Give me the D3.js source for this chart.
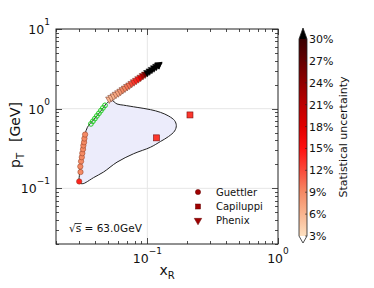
<!DOCTYPE html>
<html><head><meta charset="utf-8">
<script src="https://cdn.jsdelivr.net/npm/d3@7/dist/d3.min.js"></script>
<style>body{margin:0;background:#fff}svg{display:block;font-family:"DejaVu Sans",sans-serif}</style>
</head><body><svg id="c" width="374" height="288"></svg>
<script>
// ---- data ----
const guettlerX = [0.0301,0.0308,0.0307,0.0311,0.0315,0.0318,0.0322,0.0324,0.0328,0.0330,0.0334];
const guettlerY = [0.122,0.160,0.188,0.218,0.246,0.276,0.310,0.345,0.379,0.422,0.473];
const guettlerU = [14,9,9,9,9,9,9,9,9,9,9];
const greenX = [0.0370,0.0383,0.0397,0.0411,0.0426,0.0441,0.0457,0.0474];
const greenY = [0.644,0.694,0.750,0.811,0.874,0.944,1.02,1.10];
const phenixX = [0.0512,0.0532,0.0553,0.0575,0.0600,0.0624,0.0649,0.0675,0.0702,0.0730,0.0759,0.0791,0.0822,0.0855,0.0889,0.0925,0.0962,0.1000,0.1042,0.1084,0.1127,0.1172,0.1219];
const phenixY = [1.315,1.377,1.439,1.507,1.574,1.648,1.726,1.803,1.888,1.972,2.065,2.163,2.259,2.366,2.472,2.588,2.704,2.831,2.965,3.097,3.243,3.388,3.548];
const phenixU = [6,6,6,7,7,8,9,9,10,10,12,13,14,15,18,22,26,31,33,35,38,40,45];
const capX = [0.1175,0.212];
const capY = [0.430,0.834];
const capU = [13,13];
const contourX = [0.0301,0.0302,0.0306,0.0311,0.0319,0.0326,0.0334,0.0348,0.0365,0.0392,0.0421,0.0452,0.0485,0.0530,0.0586,0.0659,0.0835,0.1057,0.126,0.146,0.1617,0.1667,0.1617,0.1454,0.126,0.1057,0.0786,0.0586,0.0462,0.0387,0.0340,0.0323];
const contourY = [0.117,0.145,0.185,0.237,0.299,0.387,0.483,0.584,0.649,0.739,0.853,0.986,1.155,1.277,1.145,1.106,1.038,0.972,0.899,0.806,0.708,0.613,0.524,0.447,0.387,0.328,0.272,0.213,0.160,0.136,0.119,0.1145];
const cbarTicks = [3,6,9,12,15,18,21,24,27,30];
const legendNames = ["Guettler","Capiluppi","Phenix"];
const xTickExp = [-1, 0];
const yTickExp = [-1, 0, 1];

// ---- layout ----
const svg = d3.select("#c");
const L=56, R=278, T=29, B=244;
const x = d3.scaleLog().domain([0.02,1]).range([L,R]);
const y = d3.scaleLog().domain([0.02,10]).range([B,T]);
const color = d3.scaleLinear()
  .domain([3,6,9,12,15,18,21,24,27,30])
  .range(["#fde0c0","#f9b590","#f58a64","#fa4a3a","#ff1010","#e00000","#bc0000","#900000","#650000","#3a0000"])
  .clamp(true);
const col = u => u>30 ? "#000000" : color(u);

// grid
const g = svg.append("g");
[0.1].forEach(v=>g.append("line").attr("x1",x(v)).attr("x2",x(v)).attr("y1",T).attr("y2",B).attr("stroke","#e6e6e6").attr("stroke-width",1));
[0.1,1].forEach(v=>g.append("line").attr("y1",y(v)).attr("y2",y(v)).attr("x1",L).attr("x2",R).attr("stroke","#e6e6e6").attr("stroke-width",1));

// contour
const pts = contourX.map((d,i)=>[x(d),y(contourY[i])]);
svg.append("path").attr("d", d3.line().curve(d3.curveCatmullRomClosed.alpha(0.5))(pts))
  .attr("fill","#ececfb").attr("stroke","#222").attr("stroke-width",1);

// ticks
function logTicks(lo,hi){const t=[];for(let e=-3;e<=2;e++)for(let m=1;m<10;m++){const v=m*Math.pow(10,e);if(v>=lo*0.999&&v<=hi*1.001)t.push([v,m===1]);}return t;}
const ax = svg.append("g").attr("stroke","#222").attr("stroke-width",0.8);
logTicks(0.02,1).forEach(([v,maj])=>{const len=maj?6:3;const px=Math.round(x(v))+0.5;
  ax.append("line").attr("x1",px).attr("x2",px).attr("y1",B).attr("y2",B-len);
  ax.append("line").attr("x1",px).attr("x2",px).attr("y1",T).attr("y2",T+len);});
logTicks(0.02,10).forEach(([v,maj])=>{const len=maj?6:3;const py=Math.round(y(v))+0.5;
  ax.append("line").attr("y1",py).attr("y2",py).attr("x1",L).attr("x2",L+len);
  ax.append("line").attr("y1",py).attr("y2",py).attr("x1",R).attr("x2",R-len);});
svg.append("rect").attr("x",L).attr("y",T).attr("width",R-L).attr("height",B-T).attr("fill","none").attr("stroke","#222").attr("stroke-width",1);

// tick labels
xTickExp.forEach(e=>{const t=svg.append("text").attr("x",x(Math.pow(10,e))).attr("y",263).attr("text-anchor","middle").attr("font-size",12.5).attr("fill","#111");
  t.append("tspan").text("10"); t.append("tspan").attr("dy",-9).attr("font-size",9).text(e<0?"\u2212"+(-e):e);});
yTickExp.forEach(e=>{const t=svg.append("text").attr("x",50).attr("y",y(Math.pow(10,e))+5).attr("text-anchor","end").attr("font-size",12.5).attr("fill","#111");
  t.append("tspan").text("10"); t.append("tspan").attr("dy",-9).attr("font-size",9).text(e<0?"\u2212"+(-e):e);});

// axis labels
const xl = svg.append("text").attr("x",167).attr("y",275).attr("text-anchor","middle").attr("font-size",14).attr("fill","#111");
xl.append("tspan").text("x"); xl.append("tspan").attr("dy",4).attr("font-size",10).text("R");
const yl = svg.append("text").attr("transform","translate(20,135) rotate(-90)").attr("text-anchor","middle").attr("font-size",14).attr("fill","#111");
yl.append("tspan").text("p"); yl.append("tspan").attr("dy",4).attr("font-size",10).text("T"); yl.append("tspan").attr("dy",-4).attr("dx",11).text("[GeV]");

// markers
const tri = d3.symbol().type(d3.symbolTriangle).size(24);
svg.append("g").selectAll("circle").data(guettlerX).join("circle")
  .attr("cx",d=>x(d)).attr("cy",(d,i)=>y(guettlerY[i])).attr("r",2.7)
  .attr("fill",(d,i)=>col(guettlerU[i])).attr("stroke","#8a3a20").attr("stroke-width",0.5);
svg.append("g").selectAll("circle").data(greenX).join("circle")
  .attr("cx",d=>x(d)).attr("cy",(d,i)=>y(greenY[i])).attr("r",2.4)
  .attr("fill","none").attr("stroke","#22cc22").attr("stroke-width",1);
svg.append("g").selectAll("path").data(phenixX).join("path")
  .attr("d",tri).attr("transform",(d,i)=>`translate(${x(d)},${y(phenixY[i])}) rotate(180)`)
  .attr("fill",(d,i)=>col(phenixU[i])).attr("stroke",(d,i)=>phenixU[i]>30?"#000":"#6a3020").attr("stroke-width",0.5);
{const n=phenixX.length-1;svg.append("path").attr("d",d3.symbol().type(d3.symbolTriangle).size(30))
  .attr("transform",`translate(${x(phenixX[n])},${y(phenixY[n])}) rotate(50)`).attr("fill","#000");}
svg.append("g").selectAll("rect").data(capX).join("rect")
  .attr("x",d=>x(d)-3).attr("y",(d,i)=>y(capY[i])-3).attr("width",6).attr("height",6)
  .attr("fill",(d,i)=>col(capU[i])).attr("stroke","#7a1010").attr("stroke-width",0.6);

// legend
const lg = svg.append("g");
const lgY=[192,206.5,220.5];
legendNames.forEach((n,i)=>{
  const cy=lgY[i];
  if(i===0) lg.append("circle").attr("cx",198).attr("cy",cy).attr("r",2.6).attr("fill","#a00000").attr("stroke","#600000").attr("stroke-width",0.5);
  if(i===1) lg.append("rect").attr("x",195.5).attr("y",cy-2.5).attr("width",5).attr("height",5).attr("fill","#a00000").attr("stroke","#600000").attr("stroke-width",0.5);
  if(i===2) lg.append("path").attr("d",tri).attr("transform",`translate(198,${cy}) rotate(180)`).attr("fill","#a00000").attr("stroke","#600000").attr("stroke-width",0.5);
  lg.append("text").attr("x",216).attr("y",cy+3.5).attr("font-size",10).attr("fill","#111").text(n);
});

// sqrt(s) label
const st = svg.append("text").attr("x",69).attr("y",232).attr("font-size",10.5).attr("fill","#111");
st.append("tspan").text("\u221A");
st.append("tspan").text("s");
st.append("tspan").text(" = 63.0GeV");
{const node=st.node();const x0=node.getStartPositionOfChar(1).x, x1=node.getEndPositionOfChar(1).x;
 svg.append("line").attr("x1",x0-1).attr("x2",x1+0.5).attr("y1",223.5).attr("y2",223.5).attr("stroke","#111").attr("stroke-width",0.8);}

// colorbar
const cbX=299, cbW=8, cbT=39, cbB=236;
const cy = d3.scaleLinear().domain([3,30]).range([cbB,cbT]);
const defs = svg.append("defs");
const grad = defs.append("linearGradient").attr("id","cg").attr("x1",0).attr("y1",1).attr("x2",0).attr("y2",0);
d3.range(0,28).forEach(i=>{const v=3+i;grad.append("stop").attr("offset",(v-3)/27).attr("stop-color",color(v));});
svg.append("rect").attr("x",cbX).attr("y",cbT).attr("width",cbW).attr("height",cbB-cbT).attr("fill","url(#cg)");
svg.append("path").attr("d",`M${cbX},${cbT}L${cbX+cbW/2},${cbT-11}L${cbX+cbW},${cbT}Z`).attr("fill","#000");
svg.append("path").attr("d",`M${cbX},${cbB}L${cbX+cbW/2},${cbB+7}L${cbX+cbW},${cbB}Z`).attr("fill","#fff");
svg.append("path").attr("d",`M${cbX},${cbB}L${cbX+cbW/2},${cbB+7}L${cbX+cbW},${cbB}L${cbX+cbW},${cbT}L${cbX+cbW/2},${cbT-11}L${cbX},${cbT}Z`)
  .attr("fill","none").attr("stroke","#222").attr("stroke-width",0.8);
cbarTicks.forEach(v=>{
  svg.append("line").attr("x1",cbX+cbW-2).attr("x2",cbX+cbW).attr("y1",cy(v)).attr("y2",cy(v)).attr("stroke","#222").attr("stroke-width",0.6);
  svg.append("text").attr("x",cbX+cbW+2).attr("y",cy(v)+4).attr("font-size",11).attr("fill","#111").text(v+"%");
});
svg.append("text").attr("transform","translate(347,137) rotate(-90)").attr("text-anchor","middle").attr("font-size",11).attr("fill","#111").text("Statistical uncertainty");
</script></body></html>
